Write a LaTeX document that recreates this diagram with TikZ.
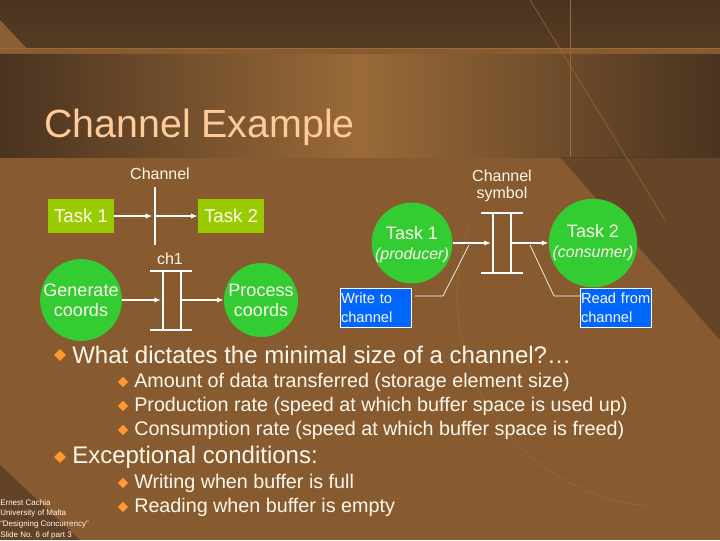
\documentclass[tikz,border=0pt]{standalone}
\usepackage{fontspec}
\setmainfont{Liberation Sans}
\usetikzlibrary{arrows.meta,shapes.geometric}
\definecolor{bgA}{HTML}{4A3320}
\definecolor{bgB}{HTML}{9A6A38}
\definecolor{bgC}{HTML}{875A30}
\definecolor{lime}{HTML}{99CC00}
\definecolor{grn}{HTML}{33CC33}
\definecolor{blu}{HTML}{0066FF}
\definecolor{orng}{HTML}{FF9933}
\definecolor{ttl}{HTML}{FFCC99}
\definecolor{txt}{HTML}{FFF8EC}
\tikzset{
  lbl/.style={text=txt,font=\fontsize{12}{13}\selectfont,align=center,inner sep=0},
  taskbox/.style={fill=lime,text=txt,font=\fontsize{14}{15}\selectfont,minimum width=66*0.75pt,minimum height=34*0.75pt,inner sep=0},
  taskcirc/.style={circle,fill=grn,text=txt,font=\fontsize{13.5}{15}\selectfont,minimum size=74*0.75pt,inner sep=0,align=center},
  note/.style={fill=blu,draw=white,line width=0.6pt,text=txt,font=\fontsize{11}{14}\selectfont,align=left,inner sep=0.5pt,minimum width=67*0.75pt,minimum height=39*0.75pt,text width=70*0.75pt},
  flow/.style={white,line width=1.5pt,-{Latex[length=5pt,width=4pt]}},
  bar/.style={white,line width=2.2pt},
  lead/.style={white,line width=0.5pt},
  big/.style={text=txt,font=\fontsize{18}{19}\selectfont,anchor=west,inner sep=0},
  small/.style={text=txt,font=\fontsize{14.8}{15}\selectfont,anchor=west,inner sep=0},
  dia/.style={diamond,fill=orng,inner sep=0,minimum size=#1},
}
\begin{document}
\begin{tikzpicture}[x=0.75pt,y=-0.75pt]
\useasboundingbox (0,0) rectangle (720,540);
% background
\fill[bgC] (0,0) rectangle (720,540);
\shade[top color=bgA,bottom color=bgA!85!bgB] (0,0) rectangle (720,48);
\shade[left color=bgA,right color=bgB] (0,54) rectangle (360,157);
\shade[left color=bgB,right color=bgA] (360,54) rectangle (720,157);
\fill[bgB!80!bgA] (0,20) -- (31,53) -- (0,53) -- cycle;
\draw[bgB,line width=0.7pt] (0,48) -- (720,48);
\fill[bgA,opacity=0.55] (560,157) -- (720,157) -- (720,340) -- cycle;
\fill[bgA,opacity=0.6] (0,465) -- (80,540) -- (0,540) -- cycle;
\draw[bgB,line width=0.4pt] (570,0) -- (570,157);
\draw[bgB,line width=0.4pt] (530,0) -- (665,220);
\draw[bgB,line width=0.4pt] (470,225) arc (200:95:210);
% title
\node[anchor=west,text=ttl,font=\fontsize{29.5}{30}\selectfont,inner sep=0] (title) at (44,127) {Channel Example};
% left top diagram
\node[lbl] (chl) at (160,174) {Channel};
\coordinate (cbt) at (155,187); \coordinate (cbb) at (155,245);
\draw[bar] (cbt) -- (cbb);
\node[taskbox] (t1) at (81,216) {Task 1};
\node[taskbox] (t2) at (231,216) {Task 2};
\coordinate (cm) at (155,216);
\draw[flow] (t1) -- ([xshift=-2]cm);
\draw[flow] (cm) -- (t2);
% ch1
\node[lbl] (ch1) at (170,259) {ch1};
\coordinate (a1) at (150,271); \coordinate (a2) at (192,271);
\coordinate (b1) at (150,330); \coordinate (b2) at (192,330);
\draw[bar] (a1) -- (a2); \draw[bar] (b1) -- (b2);
\draw[bar] (163,271) -- (163,330); \draw[bar] (181,271) -- (181,330);
\node[taskcirc] (gen) at (81,300) {Generate\\coords};
\node[taskcirc] (proc) at (261,300) {Process\\coords};
\coordinate (ci) at (161,300); \coordinate (co) at (181,300);
\draw[flow] (gen) -- (ci);
\draw[flow] (co) -- (proc);
% right diagram
\node[lbl] (chs) at (502,186) {Channel\\symbol};
\draw[bar] (481,213) -- (523,213); \draw[bar] (481,273) -- (523,273);
\draw[bar] (493,213) -- (493,273); \draw[bar] (511,213) -- (511,273);
\node[taskcirc,text depth=0pt] (p) at (412,243) {Task 1\\{\fontsize{12}{13}\selectfont\itshape (producer)}};
\node[taskcirc] (c) at (593,243) {Task 2\\{\fontsize{12}{13}\selectfont\itshape (consumer)}};
\coordinate (pi) at (491,243); \coordinate (po) at (511,243);
\draw[flow] (p) -- (pi);
\draw[flow] (po) -- (c);
\node[note] (w) at (376,308) {Write to\\channel};
\node[note] (r) at (616,308) {Read from\\channel};
\coordinate (wl) at (415,296); \coordinate (rl) at (583,296);
\draw[lead] (wl) -- (443,296) -- (469,245);
\draw[lead] (rl) -- (554,296) -- (530,245);
% bullets
\node[dia=9pt] (d1) at (60,355) {};
\node[big] (b1t) at (72,355) {What dictates the minimal size of a channel?…};
\node[dia=8pt] (d2) at (123,382) {};
\node[small] (s1) at (134,382) {Amount of data transferred (storage element size)};
\node[dia=8pt] (d3) at (123,406) {};
\node[small] (s2) at (134,406) {Production rate (speed at which buffer space is used up)};
\node[dia=8pt] (d4) at (123,430) {};
\node[small] (s3) at (134,430) {Consumption rate (speed at which buffer space is freed)};
\node[dia=9pt] (d5) at (60,457) {};
\node[big] (b2t) at (72,457) {Exceptional conditions:};
\node[dia=8pt] (d6) at (123,483) {};
\node[small] (s4) at (134,483) {Writing when buffer is full};
\node[dia=8pt] (d7) at (123,507) {};
\node[small] (s5) at (134,507) {Reading when buffer is empty};
\node[anchor=north west,text=txt,font=\fontsize{6}{8}\selectfont,align=left,inner sep=0] (foot) at (0,499) {Ernest Cachia\\University of Malta\\“Designing Concurrency”\\Slide No. 6 of part 3};
\end{tikzpicture}
\end{document}
